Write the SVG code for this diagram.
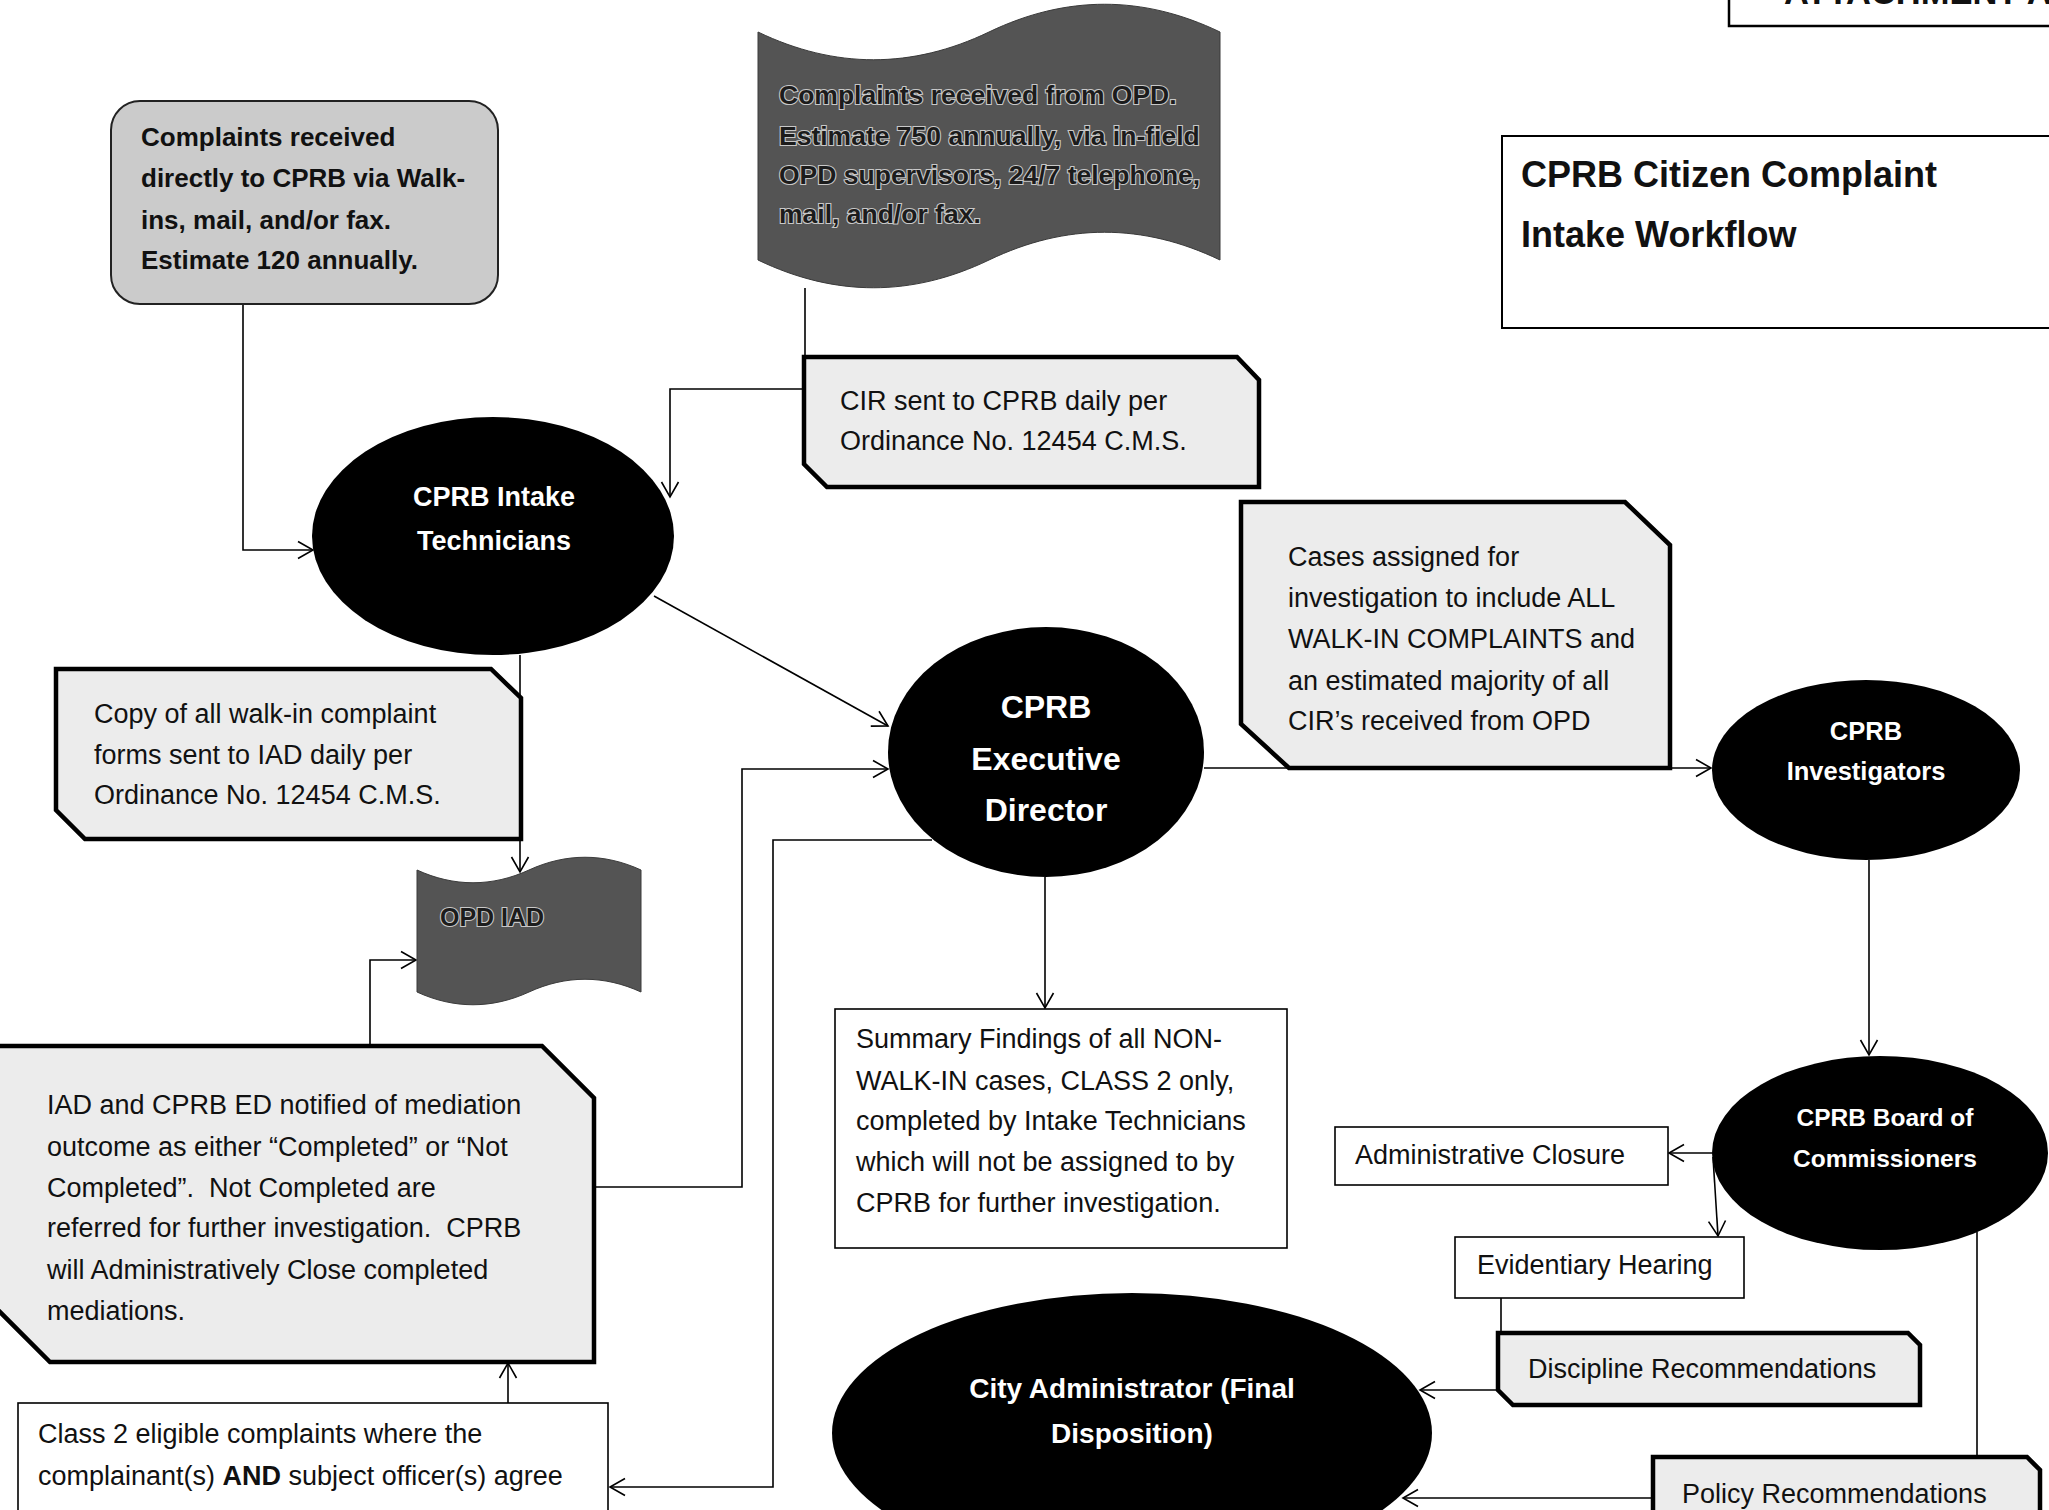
<svg xmlns="http://www.w3.org/2000/svg" width="2049" height="1510" viewBox="0 0 2049 1510">
<defs>
<style>
text{font-family:"Liberation Sans",Arial,sans-serif;fill:#111}
.r{font-size:27px}
.b{font-size:26px;font-weight:bold}
.w{fill:#fff;font-weight:bold}
.dk{font-size:26.5px;font-weight:bold;fill:#1c1c1c;stroke:#c8c8c8;stroke-width:2.2px;paint-order:stroke}
.thick{fill:#ececec;stroke:#000;stroke-width:4.5;stroke-linejoin:miter}
.thin{fill:#fff;stroke:#000;stroke-width:1.6}
.ell{fill:#000}
.wave{fill:#545454;stroke:#3a3a3a;stroke-width:1}
.c{fill:none;stroke:#000;stroke-width:1.6}
.a{marker-end:url(#arr)}
</style>
<marker id="arr" viewBox="-17 -10 19 20" refX="0" refY="0" markerWidth="19" markerHeight="20" markerUnits="userSpaceOnUse" orient="auto">
<path d="M-15,-8.5 L0,0 L-15,8.5" fill="none" stroke="#000" stroke-width="1.6"/>
</marker>
</defs>
<rect width="2049" height="1510" fill="#fff"/>

<g id="connectors">
<path class="c a" d="M243,304 V550 H313"/>
<path class="c a" d="M805,288 V389 H670 V497"/>
<path class="c a" d="M654,596 L888,726"/>
<path class="c a" d="M520,655 V872"/>
<path class="c a" d="M370,1046 V960 H416"/>
<path class="c a" d="M594,1187 H742 V769 H888"/>
<path class="c a" d="M932,840 H773 V1487 H610"/>
<path class="c a" d="M1045,877 V1008"/>
<path class="c a" d="M1204,768 H1711"/>
<path class="c a" d="M1869,860 V1055"/>
<path class="c a" d="M1712,1153 H1669"/>
<path class="c a" d="M1713,1157 L1718,1236"/>
<path class="c" d="M1501,1298 V1333"/>
<path class="c a" d="M1498,1390 H1420"/>
<path class="c" d="M1977,1232 V1457"/>
<path class="c a" d="M1653,1498 H1403"/>
<path class="c a" d="M508,1403 V1363"/>
</g>

<g id="attachment">
<rect x="1729" y="-10" width="400" height="36" fill="#fff" stroke="#000" stroke-width="2.5"/>
<text x="1784" y="4" style="font-size:34.5px;font-weight:bold">ATTACHMENT A</text>
</g>

<g id="title">
<rect x="1502" y="136" width="600" height="192" fill="#fff" stroke="#000" stroke-width="2"/>
<text x="1521" y="187" style="font-size:36px;font-weight:bold">CPRB Citizen Complaint</text>
<text x="1521" y="247" style="font-size:36px;font-weight:bold">Intake Workflow</text>
</g>

<g id="walkin-source">
<rect x="111" y="101" width="387" height="203" rx="29" fill="#cbcbcb" stroke="#222" stroke-width="2"/>
<text class="b" x="141" y="146">Complaints received</text>
<text class="b" x="141" y="187">directly to CPRB via Walk-</text>
<text class="b" x="141" y="229">ins, mail, and/or fax.</text>
<text class="b" x="141" y="269">Estimate 120 annually.</text>
</g>

<g id="opd-source">
<path class="wave" d="M758,32 C835,69 912,69 989,32 C1066,-5 1143,-5 1220,32 L1220,260 C1143,223 1066,223 989,260 C912,297 835,297 758,260 Z"/>
<text class="dk" x="779" y="104">Complaints received from OPD.</text>
<text class="dk" x="779" y="145">Estimate 750 annually, via in-field</text>
<text class="dk" x="779" y="184">OPD supervisors, 24/7 telephone,</text>
<text class="dk" x="779" y="223">mail, and/or fax.</text>
</g>

<g id="cir-sent">
<polygon class="thick" points="804,357 1237,357 1259,380 1259,487 827,487 804,464"/>
<text class="r" x="840" y="410">CIR sent to CPRB daily per</text>
<text class="r" x="840" y="450">Ordinance No. 12454 C.M.S.</text>
</g>

<g id="intake-technicians">
<ellipse class="ell" cx="493" cy="536" rx="181" ry="119"/>
<text class="w" x="494" y="506" text-anchor="middle" style="font-size:27px">CPRB Intake</text>
<text class="w" x="494" y="550" text-anchor="middle" style="font-size:27px">Technicians</text>
</g>

<g id="copy-to-iad">
<polygon class="thick" points="56,669 491,669 521,698 521,839 85,839 56,810"/>
<text class="r" x="94" y="723">Copy of all walk-in complaint</text>
<text class="r" x="94" y="764">forms sent to IAD daily per</text>
<text class="r" x="94" y="804">Ordinance No. 12454 C.M.S.</text>
</g>

<g id="opd-iad">
<path class="wave" d="M417,870 C454,887 492,887 529,870 C566,853 604,853 641,870 L641,992 C604,975 566,975 529,992 C492,1009 454,1009 417,992 Z"/>
<text class="dk" x="440" y="926" style="font-size:25px">OPD IAD</text>
</g>

<g id="mediation-outcome">
<polygon class="thick" points="-10,1046 542,1046 594,1098 594,1362 50,1362 -10,1302"/>
<text class="r" x="47" y="1114">IAD and CPRB ED notified of mediation</text>
<text class="r" x="47" y="1156">outcome as either “Completed” or “Not</text>
<text class="r" x="47" y="1197" xml:space="preserve">Completed”.  Not Completed are</text>
<text class="r" x="47" y="1237" xml:space="preserve">referred for further investigation.  CPRB</text>
<text class="r" x="47" y="1279">will Administratively Close completed</text>
<text class="r" x="47" y="1320">mediations.</text>
</g>

<g id="class2-eligible">
<rect class="thin" x="18" y="1403" width="590" height="140"/>
<text class="r" x="38" y="1443">Class 2 eligible complaints where the</text>
<text class="r" x="38" y="1485">complainant(s) <tspan font-weight="bold">AND</tspan> subject officer(s) agree</text>
</g>

<g id="executive-director">
<ellipse class="ell" cx="1046" cy="752" rx="158" ry="125"/>
<text class="w" x="1046" y="718" text-anchor="middle" style="font-size:32px">CPRB</text>
<text class="w" x="1046" y="770" text-anchor="middle" style="font-size:32px">Executive</text>
<text class="w" x="1046" y="821" text-anchor="middle" style="font-size:32px">Director</text>
</g>

<g id="summary-findings">
<rect class="thin" x="835" y="1009" width="452" height="239"/>
<text class="r" x="856" y="1048">Summary Findings of all NON-</text>
<text class="r" x="856" y="1090">WALK-IN cases, CLASS 2 only,</text>
<text class="r" x="856" y="1130">completed by Intake Technicians</text>
<text class="r" x="856" y="1171">which will not be assigned to by</text>
<text class="r" x="856" y="1212">CPRB for further investigation.</text>
</g>

<g id="cases-assigned">
<polygon class="thick" points="1241,502 1625,502 1670,545 1670,768 1289,768 1241,724"/>
<text class="r" x="1288" y="566">Cases assigned for</text>
<text class="r" x="1288" y="607">investigation to include ALL</text>
<text class="r" x="1288" y="648">WALK-IN COMPLAINTS and</text>
<text class="r" x="1288" y="690">an estimated majority of all</text>
<text class="r" x="1288" y="730">CIR’s received from OPD</text>
</g>

<g id="investigators">
<ellipse class="ell" cx="1866" cy="770" rx="154" ry="90"/>
<text class="w" x="1866" y="740" text-anchor="middle" style="font-size:25.5px">CPRB</text>
<text class="w" x="1866" y="780" text-anchor="middle" style="font-size:25.5px">Investigators</text>
</g>

<g id="board-of-commissioners">
<ellipse class="ell" cx="1880" cy="1153" rx="168" ry="97"/>
<text class="w" x="1885" y="1126" text-anchor="middle" style="font-size:24.5px">CPRB Board of</text>
<text class="w" x="1885" y="1167" text-anchor="middle" style="font-size:24.5px">Commissioners</text>
</g>

<g id="administrative-closure">
<rect class="thin" x="1335" y="1127" width="333" height="58"/>
<text class="r" x="1355" y="1164">Administrative Closure</text>
</g>

<g id="evidentiary-hearing">
<rect class="thin" x="1455" y="1237" width="289" height="61"/>
<text class="r" x="1477" y="1274">Evidentiary Hearing</text>
</g>

<g id="discipline-recommendations">
<polygon class="thick" points="1498,1333 1908,1333 1920,1345 1920,1405 1513,1405 1498,1390"/>
<text class="r" x="1528" y="1378">Discipline Recommendations</text>
</g>

<g id="policy-recommendations">
<polygon class="thick" points="1653,1457 2027,1457 2040,1470 2040,1540 1653,1540"/>
<text class="r" x="1682" y="1503">Policy Recommendations</text>
</g>

<g id="city-administrator">
<ellipse class="ell" cx="1132" cy="1433" rx="300" ry="140"/>
<text class="w" x="1132" y="1398" text-anchor="middle" style="font-size:28px">City Administrator (Final</text>
<text class="w" x="1132" y="1443" text-anchor="middle" style="font-size:28px">Disposition)</text>
</g>
</svg>
